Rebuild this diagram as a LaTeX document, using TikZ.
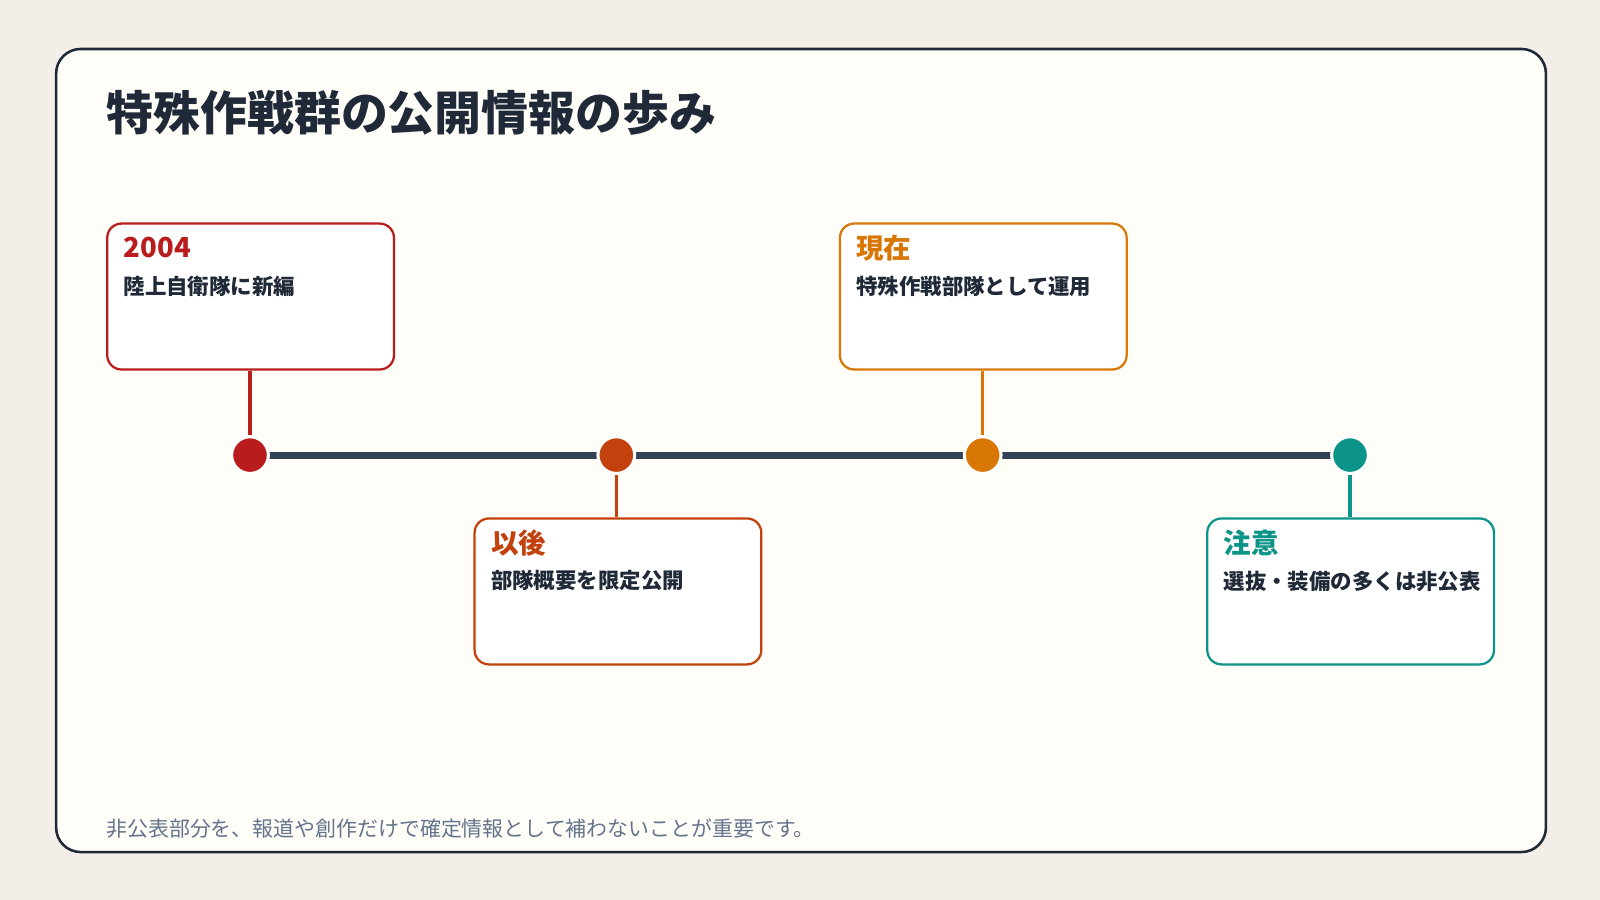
\documentclass[tikz,border=0pt]{standalone}
\usepackage{fontspec}
\setmainfont{Noto Sans CJK JP}
\definecolor{bg}{HTML}{F3EFE8}
\definecolor{card}{HTML}{FEFDF8}
\definecolor{ink}{HTML}{1F2937}
\definecolor{axis}{HTML}{334155}
\definecolor{muted}{HTML}{64748B}
\definecolor{cA}{HTML}{B91C1C}
\definecolor{cB}{HTML}{C2410C}
\definecolor{cC}{HTML}{D97706}
\definecolor{cD}{HTML}{0D9488}
\begin{document}
\begin{tikzpicture}[x=1pt,y=-1pt,
  ev/.style={draw=#1,line width=2.2pt,rounded corners=14pt,fill=white,minimum width=281pt,minimum height=143pt,anchor=north west},
  head/.style={anchor=west,text=#1,font=\fontsize{27}{32}\selectfont\bfseries},
  body/.style={anchor=north west,text=ink,font=\fontsize{21}{28}\selectfont\bfseries,text width=240pt,align=left,inner sep=0pt},
  dot/.style={circle,fill=#1,draw=white,line width=3pt,minimum size=36pt,inner sep=0pt},
  stem/.style={draw=#1,line width=3pt}]
\path[fill=bg] (0,0) rectangle (1568,882);
\useasboundingbox (0,0) rectangle (1568,882);
\draw[fill=card,draw=ink,line width=2.5pt,rounded corners=24pt] (55,48) rectangle (1515,835);
\node[anchor=base west,text=ink,font=\fontsize{46}{52}\selectfont\bfseries,inner sep=0pt] (title) at (104,128) {特殊作戦群の公開情報の歩み};
% axis
\coordinate (ax1) at (245,446);
\coordinate (ax2) at (1323,446);
\draw[axis,line width=7pt] (ax1) -- (ax2);
\node[dot=cA] (d1) at (245,446) {};
\node[dot=cB] (d2) at (604,446) {};
\node[dot=cC] (d3) at (963,446) {};
\node[dot=cD] (d4) at (1323,446) {};
% cards
\node[ev=cA] (b1) at (104,218) {};
\node[ev=cB] (b2) at (464,507) {};
\node[ev=cC] (b3) at (822,218) {};
\node[ev=cD] (b4) at (1182,507) {};
\draw[stem=cA] (b1.south -| d1) -- (d1.north);
\draw[stem=cB] (d2.south) -- (b2.north -| d2);
\draw[stem=cC] (b3.south -| d3) -- (d3.north);
\draw[stem=cD] (d4.south) -- (b4.north -| d4);
\node[head=cA,inner sep=0pt] (h1) at (121,243) {2004};
\node[body] (t1) at (121,270) {陸上自衛隊に新編};
\node[head=cB,inner sep=0pt] (h2) at (481,532) {以後};
\node[body] (t2) at (481,559) {部隊概要を限定公開};
\node[head=cC,inner sep=0pt] (h3) at (839,243) {現在};
\node[body] (t3) at (839,270) {特殊作戦部隊として運用};
\node[head=cD,inner sep=0pt] (h4) at (1199,532) {注意};
\node[body] (t4) at (1199,559) {選抜・装備の多くは非公表};
\node[anchor=base west,text=muted,font=\fontsize{20.5}{24}\selectfont,inner sep=0pt] (foot) at (104,820) {非公表部分を、報道や創作だけで確定情報として補わないことが重要です。};
\end{tikzpicture}
\end{document}
